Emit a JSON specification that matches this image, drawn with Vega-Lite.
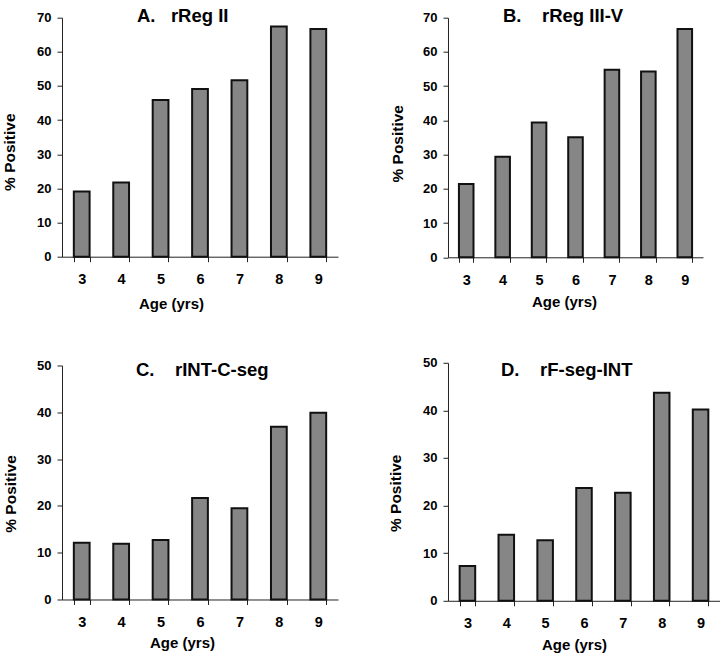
{
  "$schema": "https://vega.github.io/schema/vega-lite/v6.json",
  "padding": {"left": 2, "top": 6.7, "right": 0, "bottom": 0},
  "background": "white",
  "config": {
    "view": {"stroke": null},
    "font": "Liberation Sans",
    "axis": {"labelFont": "Liberation Sans", "titleFont": "Liberation Sans", "labelFontWeight": "bold", "titleFontWeight": "bold", "labelColor": "black", "titleColor": "black", "domainColor": "#222222", "tickColor": "#222222", "grid": false, "tickSize": 5, "domainWidth": 1, "tickWidth": 1},
    "axisX": {"labelFontSize": 14.5, "labelAngle": 0, "tickBand": "extent", "labelPadding": 11, "titleFontSize": 15, "titlePadding": 7},
    "axisY": {"labelFontSize": 13, "labelPadding": 6, "titleFontSize": 15.5},
    "title": {"font": "Liberation Sans", "fontSize": 18.5, "fontWeight": "bold", "anchor": "start", "frame": "group", "color": "black", "baseline": "alphabetic"},
    "bar": {"fill": "#868686", "stroke": "#111111", "strokeWidth": 2},
    "scale": {"bandPaddingInner": 0.6, "bandPaddingOuter": 0.3}
  },
  "spacing": 50,
  "hconcat": [
    {
      "spacing": 47.8,
      "vconcat": [
        {
          "title": {"text": "A.\u00a0\u00a0\u00a0rReg II", "dx": 75, "offset": -13.5},
          "width": 276, "height": 239,
          "data": {"values": [
            {"age": "3", "pct": 19.1}, {"age": "4", "pct": 21.7}, {"age": "5", "pct": 45.9}, {"age": "6", "pct": 49.1},
            {"age": "7", "pct": 51.7}, {"age": "8", "pct": 67.4}, {"age": "9", "pct": 66.7}
          ]},
          "mark": "bar",
          "encoding": {
            "x": {"field": "age", "type": "ordinal", "title": "Age (yrs)", "axis": {"titleX": 109, "titlePadding": 10}},
            "y": {"field": "pct", "type": "quantitative", "title": "% Positive", "scale": {"domain": [0, 70], "nice": false}, "axis": {"values": [0, 10, 20, 30, 40, 50, 60, 70], "titleY": 134, "titlePadding": 19}}
          }
        },
        {
          "title": {"text": "C.\u00a0\u00a0\u00a0\u00a0rINT-C-seg", "dx": 74, "offset": -19.8},
          "width": 276, "height": 234,
          "data": {"values": [
            {"age": "3", "pct": 12.1}, {"age": "4", "pct": 11.9}, {"age": "5", "pct": 12.7}, {"age": "6", "pct": 21.7},
            {"age": "7", "pct": 19.5}, {"age": "8", "pct": 36.9}, {"age": "9", "pct": 39.9}
          ]},
          "mark": "bar",
          "encoding": {
            "x": {"field": "age", "type": "ordinal", "title": "Age (yrs)", "axis": {"titleX": 120}},
            "y": {"field": "pct", "type": "quantitative", "title": "% Positive", "scale": {"domain": [0, 50], "nice": false}, "axis": {"values": [0, 10, 20, 30, 40, 50], "titleY": 128, "titlePadding": 18.5}}
          }
        }
      ]
    },
    {
      "spacing": 46.1,
      "vconcat": [
        {
          "title": {"text": "B.\u00a0\u00a0\u00a0\u00a0rReg III-V", "dx": 55, "offset": -13.5},
          "width": 255, "height": 239.6,
          "data": {"values": [
            {"age": "3", "pct": 21.4}, {"age": "4", "pct": 29.4}, {"age": "5", "pct": 39.4}, {"age": "6", "pct": 35.1},
            {"age": "7", "pct": 54.8}, {"age": "8", "pct": 54.3}, {"age": "9", "pct": 66.7}
          ]},
          "mark": "bar",
          "encoding": {
            "x": {"field": "age", "type": "ordinal", "title": "Age (yrs)", "axis": {"titleX": 116, "titlePadding": 8}},
            "y": {"field": "pct", "type": "quantitative", "title": "% Positive", "scale": {"domain": [0, 70], "nice": false}, "axis": {"values": [0, 10, 20, 30, 40, 50, 60, 70], "titleY": 125.6, "titlePadding": 17.5}}
          }
        },
        {
          "title": {"text": "D.\u00a0\u00a0\u00a0\u00a0rF-seg-INT", "dx": 53, "offset": -22.8},
          "width": 272, "height": 238,
          "data": {"values": [
            {"age": "3", "pct": 7.3}, {"age": "4", "pct": 13.9}, {"age": "5", "pct": 12.7}, {"age": "6", "pct": 23.7},
            {"age": "7", "pct": 22.7}, {"age": "8", "pct": 43.7}, {"age": "9", "pct": 40.2}
          ]},
          "mark": "bar",
          "encoding": {
            "x": {"field": "age", "type": "ordinal", "title": "Age (yrs)", "axis": {"titleX": 126}},
            "y": {"field": "pct", "type": "quantitative", "title": "% Positive", "scale": {"domain": [0, 50], "nice": false}, "axis": {"values": [0, 10, 20, 30, 40, 50], "titleY": 130, "titlePadding": 19.5}}
          }
        }
      ]
    }
  ]
}
